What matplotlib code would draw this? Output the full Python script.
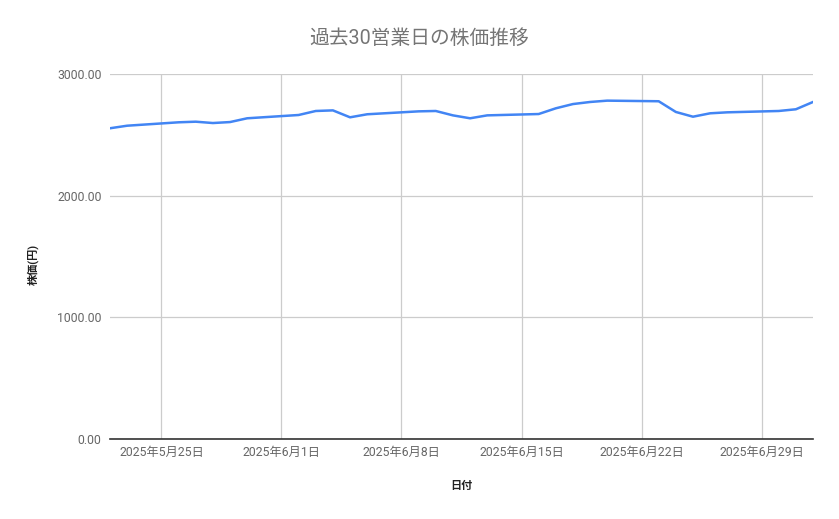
import matplotlib
matplotlib.use("Agg")
import matplotlib.pyplot as plt
import matplotlib.dates as mdates
from matplotlib.ticker import FuncFormatter, FixedLocator
import datetime as dt

plt.rcParams['font.family'] = ['Roboto', 'Noto Sans CJK JP', 'DejaVu Sans']

dates = ["2025-05-22", "2025-05-23", "2025-05-26", "2025-05-27", "2025-05-28",
         "2025-05-29", "2025-05-30", "2025-06-02", "2025-06-03", "2025-06-04",
         "2025-06-05", "2025-06-06", "2025-06-09", "2025-06-10", "2025-06-11",
         "2025-06-12", "2025-06-13", "2025-06-16", "2025-06-17", "2025-06-18",
         "2025-06-19", "2025-06-20", "2025-06-23", "2025-06-24", "2025-06-25",
         "2025-06-26", "2025-06-27", "2025-06-30", "2025-07-01", "2025-07-02"]
prices = [2554, 2575, 2603, 2608, 2597, 2605, 2636, 2663, 2696, 2701,
          2644, 2669, 2693, 2696, 2660, 2636, 2660, 2671, 2718, 2753,
          2770, 2781, 2776, 2688, 2649, 2677, 2685, 2696, 2710, 2770]
tick_dates = ["2025-05-25", "2025-06-01", "2025-06-08", "2025-06-15", "2025-06-22", "2025-06-29"]
y_ticks = [0, 1000, 2000, 3000]

title = "過去30営業日の株価推移"
xlabel = "日付"
ylabel = "株価(円)"

d = [dt.datetime.strptime(s, "%Y-%m-%d") for s in dates]
td = [mdates.date2num(dt.datetime.strptime(s, "%Y-%m-%d")) for s in tick_dates]

fig = plt.figure(figsize=(8.39, 5.19), dpi=100)
ax = fig.add_axes([110/839, 1-439/519, (813-110)/839, (439-74)/519])

ax.plot(d, prices, color="#4285F4", linewidth=1.8, solid_joinstyle="round")

ax.set_xlim(dt.datetime(2025, 5, 22), dt.datetime(2025, 7, 2))
ax.set_ylim(0, 3000)
ax.xaxis.set_major_locator(FixedLocator(td))
ax.xaxis.set_major_formatter(FuncFormatter(
    lambda v, p: (lambda x: f"{x.year}年{x.month}月{x.day}日")(mdates.num2date(v))))
ax.set_yticks(y_ticks)
ax.yaxis.set_major_formatter(FuncFormatter(lambda v, p: f"{v:.2f}"))

ax.grid(True, color="#cccccc", linewidth=0.9)
ax.set_axisbelow(True)
for s in ["top", "right", "left"]:
    ax.spines[s].set_visible(False)
ax.spines["bottom"].set_color("#333333")
ax.spines["bottom"].set_linewidth(1.2)
ax.spines["bottom"].set_zorder(3)
ax.tick_params(axis="both", length=0, labelsize=8.8, labelcolor="#666666")
ax.tick_params(axis="x", pad=5)
ax.tick_params(axis="y", pad=6)

fig.text(0.5, 1-38/519, title, ha="center", va="center", fontsize=14.2, color="#757575")
fig.text(461/839, 1-486/519, xlabel, ha="center", va="center", fontsize=8, color="#222222", fontweight="bold")
fig.text(33/839, 1-264/519, ylabel, ha="center", va="center", fontsize=8, color="#222222",
         fontweight="bold", rotation=90)

fig.savefig("out.png", dpi=100)
